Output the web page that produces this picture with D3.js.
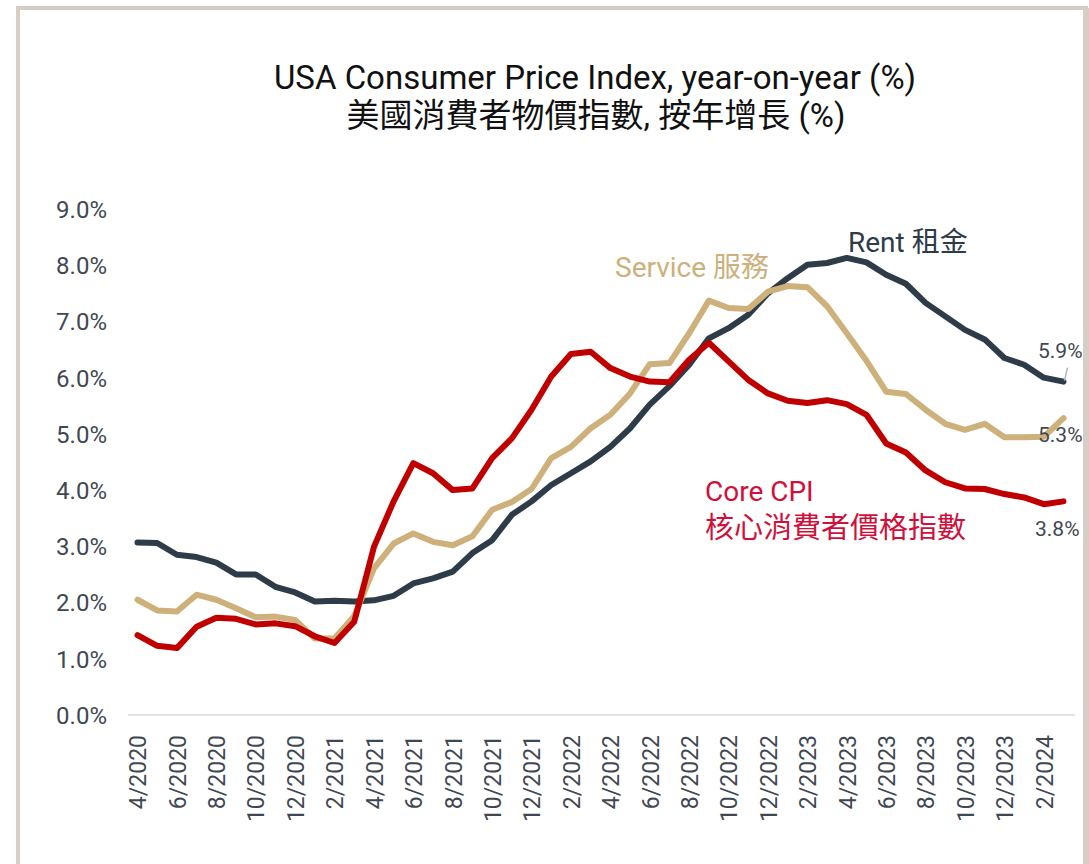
<!DOCTYPE html>
<html><head><meta charset="utf-8">
<script src="https://cdn.jsdelivr.net/npm/d3@7"></script>
<style>
html,body{margin:0;padding:0;background:#fff;}
svg{display:block;}
</style></head>
<body>
<svg id="chart" width="1089" height="864"></svg>
<script>
// ---- data ----
const months = ["4/2020","5/2020","6/2020","7/2020","8/2020","9/2020","10/2020","11/2020","12/2020",
"1/2021","2/2021","3/2021","4/2021","5/2021","6/2021","7/2021","8/2021","9/2021","10/2021","11/2021","12/2021",
"1/2022","2/2022","3/2022","4/2022","5/2022","6/2022","7/2022","8/2022","9/2022","10/2022","11/2022","12/2022",
"1/2023","2/2023","3/2023","4/2023","5/2023","6/2023","7/2023","8/2023","9/2023","10/2023","11/2023","12/2023",
"1/2024","2/2024","3/2024"];
const coreCPI = [1.42,1.23,1.19,1.57,1.73,1.71,1.61,1.63,1.58,1.40,1.28,1.66,2.99,3.80,4.48,4.30,4.00,4.03,4.57,4.92,5.43,
6.02,6.42,6.46,6.17,6.02,5.93,5.92,6.32,6.62,6.29,5.96,5.72,5.59,5.55,5.60,5.53,5.34,4.83,4.67,4.35,4.14,4.03,4.02,3.93,3.87,3.75,3.80];
const services = [2.05,1.86,1.84,2.14,2.05,1.90,1.74,1.75,1.69,1.36,1.36,1.76,2.61,3.05,3.23,3.08,3.02,3.18,3.65,3.79,4.02,
4.57,4.77,5.10,5.34,5.72,6.24,6.26,6.79,7.37,7.24,7.22,7.53,7.63,7.61,7.27,6.79,6.30,5.75,5.71,5.43,5.18,5.07,5.18,4.94,4.94,4.95,5.28];
const rent = [3.07,3.06,2.85,2.81,2.71,2.50,2.50,2.28,2.18,2.02,2.03,2.02,2.04,2.12,2.34,2.43,2.55,2.88,3.11,3.56,3.80,
4.09,4.30,4.51,4.77,5.10,5.52,5.85,6.23,6.70,6.88,7.12,7.50,7.77,8.01,8.04,8.13,8.05,7.83,7.67,7.33,7.09,6.85,6.68,6.35,6.23,6.00,5.93];
const yTicks = [0,1,2,3,4,5,6,7,8,9];
const titleLines = ["USA Consumer Price Index, year-on-year (%)","美國消費者物價指數, 按年增長 (%)"];
const seriesNames = {rent:"Rent 租金", services:"Service 服務", core:["Core CPI","核心消費者價格指數"]};
const endLabels = ["5.9%","5.3%","3.8%"];

// ---- drawing ----
const svg = d3.select("#chart");
const C = {rent:"#2e3b48", services:"#cdb07a", core:"#c00000", coreText:"#d0103a", axis:"#3f4852", frame:"#d6cec6"};
const font = "Roboto, 'Liberation Sans', Arial, sans-serif";
const cjk = "Roboto, 'Noto Sans CJK TC', sans-serif";

// frame
svg.append("rect").attr("x",18).attr("y",8).attr("width",1068).attr("height",870)
  .attr("fill","none").attr("stroke",C.frame).attr("stroke-width",4);

const x = d3.scaleLinear().domain([0, months.length-1]).range([137.5, 1063.5]);
const y = d3.scaleLinear().domain([0, 9]).range([715, 209]);

// title
const tt = svg.append("text").attr("text-anchor","middle").attr("fill","#111")
  .style("font-family",cjk);
tt.append("tspan").attr("x",595).attr("y",89).style("font-size","33px").text(titleLines[0]);
tt.append("tspan").attr("x",596).attr("y",127).style("font-size","33px").text(titleLines[1]);

// y axis
const yAxis = d3.axisLeft(y).tickValues(yTicks).tickSize(0).tickPadding(0)
  .tickFormat(d=>d3.format(".1f")(d)+"%");
const gy = svg.append("g").attr("transform","translate(107,0)").call(yAxis);
gy.select(".domain").remove();
gy.selectAll("text").attr("fill",C.axis).style("font-family",font).style("font-size","24px").attr("dy","0.35em");

// x axis
const xAxis = d3.axisBottom(x).tickValues(d3.range(0, months.length, 2)).tickSize(0)
  .tickFormat(i=>months[i]);
const gx = svg.append("g").attr("transform","translate(0,715)").call(xAxis);
gx.select(".domain").attr("d", `M128,0H1075`).attr("stroke","#dde2e8").attr("stroke-width",2);
gx.selectAll("text").attr("fill",C.axis).style("font-family",font).style("font-size","23px")
  .attr("text-anchor","end").attr("transform","rotate(-90)").attr("x",-20).attr("y",0).attr("dy","0.36em");

// lines
const line = d3.line().x((d,i)=>x(i)).y(d=>y(d));
[[rent,C.rent],[services,C.services],[coreCPI,C.core]].forEach(([arr,col])=>{
  svg.append("path").datum(arr).attr("d",line).attr("fill","none").attr("stroke",col)
    .attr("stroke-width",6).attr("stroke-linejoin","round").attr("stroke-linecap","round");
});

// series labels
svg.append("text").attr("x",848).attr("y",252).attr("fill",C.rent).style("font-family",cjk).style("font-size","28px").text(seriesNames.rent);
svg.append("text").attr("x",615).attr("y",277).attr("fill",C.services).style("font-family",cjk).style("font-size","28px").text(seriesNames.services);
const ct = svg.append("text").attr("fill",C.coreText).style("font-family",cjk).style("font-size","28px");
ct.append("tspan").attr("x",705).attr("y",501).text(seriesNames.core[0]);
ct.append("tspan").attr("x",705).attr("y",538).style("font-size","29px").text(seriesNames.core[1]);

// end labels
const last = months.length-1;
svg.append("line").attr("x1",x(last)+4).attr("y1",y(rent[last])-14).attr("x2",x(last)+1).attr("y2",y(rent[last])-1)
  .attr("stroke","#a9b8c9").attr("stroke-width",1.5);
const endData = [[endLabels[0],1038,358],[endLabels[1],1038,442],[endLabels[2],1035,536]];
svg.selectAll("text.end").data(endData).enter().append("text").attr("class","end")
  .attr("x",d=>d[1]).attr("y",d=>d[2]).attr("fill",C.axis).style("font-family",font).style("font-size","21px").text(d=>d[0]);
// right frame
svg.append("rect").attr("x",1083).attr("y",8).attr("width",6).attr("height",856).attr("fill",C.frame);
</script>
</body></html>
